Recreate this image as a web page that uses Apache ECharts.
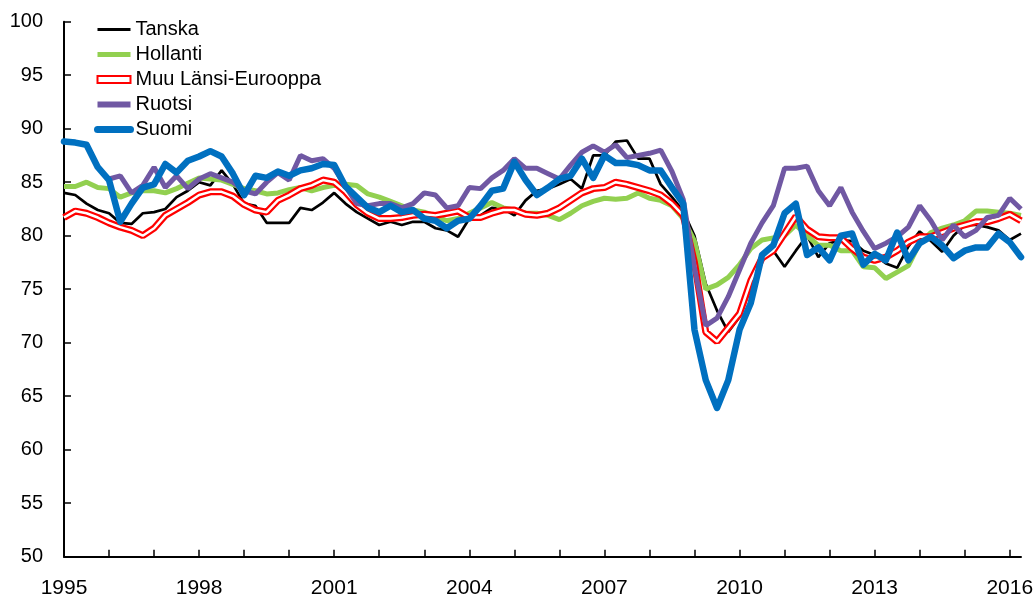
<!DOCTYPE html>
<html>
<head>
<meta charset="utf-8">
<script src="https://cdn.jsdelivr.net/npm/echarts@6/dist/echarts.min.js"></script>
<style>
html, body { margin: 0; padding: 0; background: #fff; }
#chart { width: 1035px; height: 596px; }
</style>
</head>
<body>
<div id="chart"></div>
<script>
// quarterly data 1995Q1 - 2016Q2
var years = [1995,1996,1997,1998,1999,2000,2001,2002,2003,2004,2005,2006,2007,2008,2009,2010,2011,2012,2013,2014,2015,2016];
var quarters = [];
years.forEach(function (y) {
    for (var q = 1; q <= 4; q++) quarters.push(y + 'Q' + q);
});
quarters = quarters.slice(0, 86);

var tanska = [84.0,83.8,83.0,82.4,82.1,81.2,81.1,82.1,82.2,82.5,83.6,84.2,85.0,84.7,86.1,84.8,83.0,82.8,81.2,81.2,
    81.2,82.6,82.4,83.1,84.0,83.0,82.2,81.6,81.0,81.3,81.0,81.3,81.3,80.7,80.5,79.9,81.6,81.9,82.6,82.5,
    81.9,83.3,84.2,84.4,84.8,85.3,84.4,87.5,87.5,88.8,88.9,87.2,87.2,84.8,83.6,82.3,80.0,75.5,73.0,71.0,
    72.4,75.1,78.0,78.6,77.1,78.6,80.0,78.0,79.3,79.6,79.5,78.6,78.2,77.4,77.0,79.0,80.4,79.5,78.5,80.0,
    81.0,81.0,80.8,80.5,79.6,80.2];
var hollanti = [84.6,84.6,85.0,84.5,84.4,83.6,84.0,84.2,84.2,84.0,84.4,84.9,85.4,85.3,85.2,84.8,84.4,84.2,83.9,84.0,
    84.3,84.5,84.2,84.5,84.7,84.8,84.7,83.9,83.6,83.2,82.8,82.4,82.2,81.8,81.4,81.6,82.1,82.6,83.1,82.6,
    82.4,82.1,82.1,81.9,81.5,82.1,82.8,83.2,83.5,83.4,83.5,84.0,83.5,83.3,82.8,81.6,79.5,75.0,75.4,76.1,
    77.3,78.8,79.6,79.8,80.0,81.0,80.0,79.1,79.1,78.6,78.6,77.1,77.0,76.0,76.6,77.2,79.3,80.3,80.7,81.0,
    81.4,82.3,82.3,82.2,82.1,81.9];
var muuLansi = [81.7,82.3,82.1,81.7,81.2,80.8,80.5,80.0,80.7,81.9,82.5,83.1,83.8,84.1,84.1,83.7,82.9,82.4,82.2,83.3,
    83.8,84.4,84.7,85.2,85.0,84.1,82.9,82.1,81.6,81.6,81.7,81.9,82.0,81.9,82.1,82.3,81.7,81.7,82.1,82.4,
    82.4,82.0,81.9,82.1,82.6,83.3,84.0,84.4,84.5,85.0,84.8,84.5,84.2,83.8,83.0,81.9,77.5,71.0,70.1,71.4,
    72.7,75.8,77.9,78.6,80.2,81.8,80.6,79.9,79.8,79.8,78.8,78.0,77.7,78.0,78.6,79.4,79.9,79.9,80.3,80.7,
    81.0,81.3,81.3,81.6,82.0,81.4];
var ruotsi = [null,null,null,null,85.3,85.6,84.0,84.7,86.4,84.5,85.6,84.4,85.3,85.8,85.4,85.0,84.2,83.9,85.0,85.9,
    85.2,87.5,87.0,87.2,86.3,84.6,83.0,82.8,83.0,83.0,82.6,83.0,84.0,83.8,82.6,82.8,84.5,84.4,85.4,86.1,
    87.2,86.3,86.3,85.8,85.3,86.6,87.8,88.4,87.8,88.5,87.3,87.5,87.7,88.0,86.0,83.4,77.0,71.6,72.3,74.3,
    76.8,79.3,81.2,82.8,86.3,86.3,86.5,84.2,82.8,84.5,82.2,80.4,78.8,79.3,79.9,80.8,82.8,81.4,79.6,81.0,
    79.9,80.5,81.7,81.9,83.5,82.5];
var suomi = [88.8,88.7,88.5,86.4,85.2,81.3,83.0,84.5,84.8,86.7,85.9,87.0,87.4,87.9,87.4,85.8,83.8,85.6,85.4,86.0,
    85.6,86.1,86.3,86.7,86.6,84.6,83.6,82.6,82.2,82.8,82.2,82.4,81.6,81.4,80.7,81.4,81.6,82.8,84.2,84.4,
    86.9,85.2,83.8,84.5,85.3,85.6,87.2,85.4,87.5,86.8,86.8,86.6,86.1,86.1,84.5,83.0,71.2,66.5,63.9,66.5,
    71.2,73.7,78.2,79.1,82.1,83.0,78.2,78.9,77.7,80.0,80.2,77.3,78.3,77.7,80.3,77.7,79.3,79.9,79.1,77.9,
    78.6,78.9,78.9,80.2,79.4,78.0];

var chart = echarts.init(document.getElementById('chart'));
var option = {
    animation: false,
    backgroundColor: '#fff',
    grid: {
        left: 64,
        right: 14,
        top: 21.7,
        bottom: 39.3,
        outerBoundsMode: 'none'
    },
    legend: {
        orient: 'vertical',
        left: 94,
        top: 17,
        padding: 0,
        itemWidth: 33,
        itemHeight: 7,
        itemGap: 0,
        itemStyle: { opacity: 0 },   // hide the dot on line icons
        textStyle: {
            fontFamily: 'Liberation Sans',
            fontSize: 20,
            color: '#000',
            lineHeight: 25
        },
        data: [
            { name: 'Tanska', lineStyle: { width: 3 } },
            { name: 'Hollanti', lineStyle: { width: 5 } },
            {
                name: 'Muu Länsi-Eurooppa',
                icon: 'rect',
                itemStyle: { color: '#fff', borderColor: '#ff0000', borderWidth: 2, opacity: 1 }
            },
            { name: 'Ruotsi', lineStyle: { width: 6 } },
            { name: 'Suomi', lineStyle: { width: 7, cap: 'round' } }
        ]
    },
    xAxis: {
        type: 'category',
        boundaryGap: false,
        data: quarters,
        axisLine: { lineStyle: { color: '#000', width: 2 } },
        axisTick: {
            inside: true,
            length: 7,
            interval: function (idx) { return idx % 4 === 0; },
            lineStyle: { color: '#000', width: 1.5 }
        },
        axisLabel: {
            interval: function (idx) { return idx % 12 === 0; },
            formatter: function (v) { return v.slice(0, 4); },
            fontFamily: 'Liberation Sans',
            fontSize: 21,
            color: '#000',
            margin: 21
        },
        splitLine: { show: false }
    },
    yAxis: {
        type: 'value',
        min: 50,
        max: 100,
        interval: 5,
        axisLine: { show: true, lineStyle: { color: '#000', width: 2 } },
        axisTick: { show: true, inside: true, length: 7, lineStyle: { color: '#000', width: 1.5 } },
        axisLabel: {
            fontFamily: 'Liberation Sans',
            fontSize: 20,
            color: '#000',
            margin: 21
        },
        splitLine: { show: false }
    },
    series: [
        {
            name: 'Tanska',
            type: 'line',
            data: tanska,
            symbol: 'none',
            color: '#000',
            lineStyle: { color: '#000', width: 2.7 }
        },
        {
            name: 'Hollanti',
            type: 'line',
            data: hollanti,
            symbol: 'none',
            color: '#92d050',
            lineStyle: { color: '#92d050', width: 5 }
        },
        {
            name: 'Muu Länsi-Eurooppa',
            type: 'line',
            data: muuLansi,
            symbol: 'none',
            color: '#ff0000',
            lineStyle: { color: '#ff0000', width: 7 }
        },
        {
            name: 'muuInner',
            type: 'line',
            data: muuLansi,
            symbol: 'none',
            silent: true,
            lineStyle: { color: '#fff', width: 2.5 }
        },
        {
            name: 'Ruotsi',
            type: 'line',
            data: ruotsi,
            symbol: 'none',
            color: '#7058a3',
            lineStyle: { color: '#7058a3', width: 5 }
        },
        {
            name: 'Suomi',
            type: 'line',
            data: suomi,
            symbol: 'none',
            color: '#0070c0',
            lineStyle: { color: '#0070c0', width: 6.5, cap: 'round', join: 'round' }
        }
    ]
};
chart.setOption(option);
</script>
</body>
</html>
